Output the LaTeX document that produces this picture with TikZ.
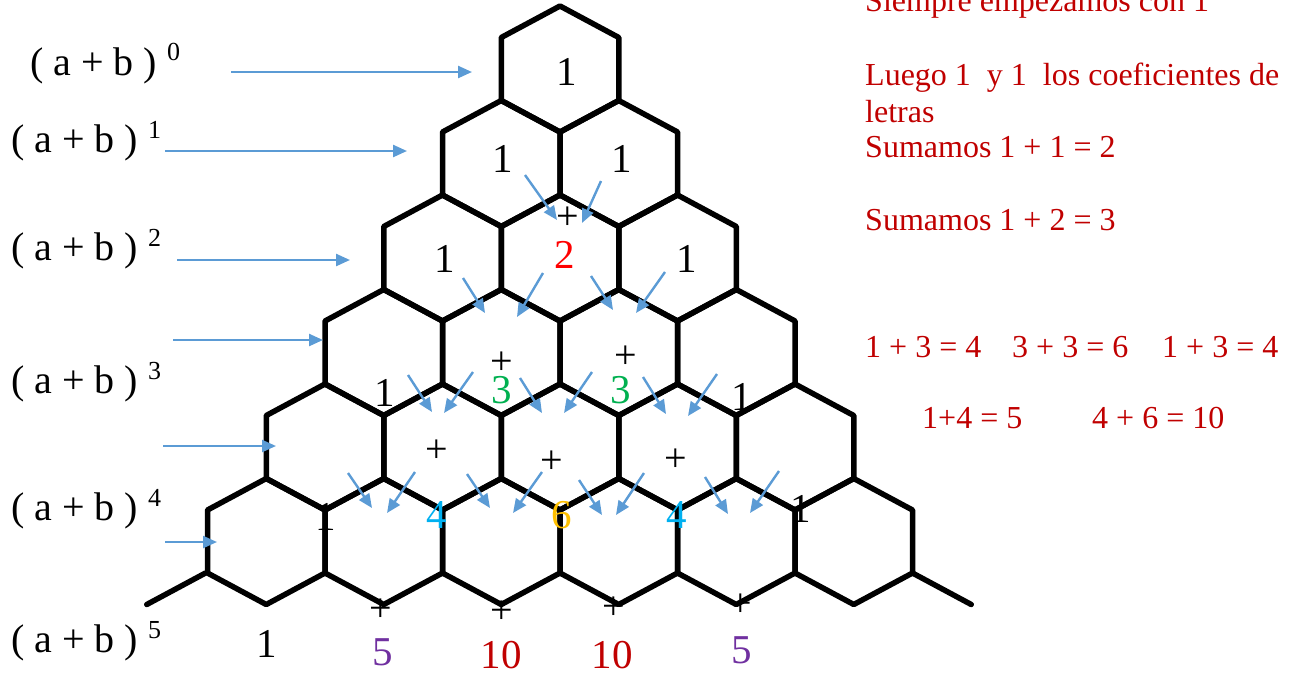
\documentclass[tikz,border=0pt]{standalone}
\usepackage{fontspec}
\setmainfont{Liberation Serif}
\usetikzlibrary{arrows.meta}
\definecolor{arrowblue}{HTML}{5B9BD5}
\definecolor{darkred}{HTML}{C00000}
\definecolor{mygreen}{HTML}{00B050}
\definecolor{mycyan}{HTML}{00B0F0}
\definecolor{myorange}{HTML}{FFC000}
\definecolor{mypurple}{HTML}{7030A0}
\begin{document}
\begin{tikzpicture}[x=1pt,y=-1pt,
  hexline/.style={line width=5.5pt, line join=round, line cap=round, black},
  blarrow/.style={arrowblue, line width=2.4pt, -{Triangle[length=14pt,width=12pt]}},
  num/.style={inner sep=0pt, anchor=base, font=\fontsize{41}{41}\selectfont},
  plus/.style={inner sep=0pt, anchor=center, font=\fontsize{40}{40}\selectfont},
  lbl/.style={inner sep=0pt, anchor=base west, font=\fontsize{40}{40}\selectfont},
  note/.style={inner sep=0pt, anchor=base west, text=darkred, font=\fontsize{32}{32}\selectfont}]
\useasboundingbox (0,0) rectangle (1297,675);
\clip (0,0) rectangle (1297,675);
% hexagon grid
\foreach \k in {0,...,5}{
  \foreach \j in {0,...,\k}{
    \pgfmathsetmacro\cx{560+117.5*(\j-\k/2)}
    \pgfmathsetmacro\cy{69+94.5*\k}
    \draw[hexline] (\cx,\cy-63) -- (\cx+58.75,\cy-31.5) -- (\cx+58.75,\cy+31.5)
      -- (\cx,\cy+63) -- (\cx-58.75,\cy+31.5) -- (\cx-58.75,\cy-31.5) -- cycle;
  }
}
\draw[hexline] (205.5,573) -- (146.75,604.5);
\draw[hexline] (912.5,573) -- (971.25,604.5);
% left labels
\node[lbl] (l0) at (30,75) {( a + b )\ \raisebox{15pt}{\fontsize{26}{26}\selectfont 0}};
\node[lbl] (l1) at (11,152) {( a + b )\ \raisebox{14pt}{\fontsize{26}{26}\selectfont 1}};
\node[lbl] (l2) at (11,260) {( a + b )\ \raisebox{14pt}{\fontsize{26}{26}\selectfont 2}};
\node[lbl] (l3) at (11,393) {( a + b )\ \raisebox{14pt}{\fontsize{26}{26}\selectfont 3}};
\node[lbl] (l4) at (11,520) {( a + b )\ \raisebox{14pt}{\fontsize{26}{26}\selectfont 4}};
\node[lbl] (l5) at (11,652) {( a + b )\ \raisebox{14pt}{\fontsize{26}{26}\selectfont 5}};
% horizontal arrows
\draw[blarrow] (231,72) -- (472,72);
\draw[blarrow] (165,151) -- (407,151);
\draw[blarrow] (177,260) -- (350,260);
\draw[blarrow] (173,340) -- (323,340);
\draw[blarrow] (163,446) -- (276,446);
\draw[blarrow] (165,542) -- (217,542);
% diagonal arrows
\foreach \ax/\ay/\bx/\by in {
  525/175/557/220, 601/181/582/223,
  463/278/485/313, 543/273/517/317, 591/276/613/310, 665/272/636/313,
  408/375/432/412, 473/372/444/413, 520/378/542/413, 592/372/564/413, 643/377/666/414, 717/374/688/416,
  348/473/372/508, 415/472/387/513, 467/474/490/508, 542/472/513/513, 579/480/602/515, 644/473/616/515, 705/477/728/514, 779/471/750/513}
  {\draw[blarrow] (\ax,\ay) -- (\bx,\by);}
% numbers in the triangle
\node[num] (r0a) at (567,85) {1};
\node[num] (r1a) at (503,172) {1};
\node[num] (r1b) at (622,172) {1};
\node[plus] (p2) at (568,218) {+};
\node[num] (r2a) at (445,272) {1};
\node[num,text=red] (r2b) at (565,268) {2};
\node[num] (r2c) at (687,272) {1};
\node[plus] (p3a) at (502,363) {+};
\node[plus] (p3b) at (626,357) {+};
\node[num] (r3a) at (385,406) {1};
\node[num,text=mygreen] (r3b) at (502,403) {3};
\node[num,text=mygreen] (r3c) at (621,403) {3};
\node[num] (r3d) at (742,410) {1};
\node[plus] (p4a) at (437,451) {+};
\node[plus] (p4b) at (552,462) {+};
\node[plus] (p4c) at (676,460) {+};
\node[num] (r4a) at (326,530) {1};
\node[num,text=mycyan] (r4b) at (437,528) {4};
\node[num,text=myorange] (r4c) at (562,528) {6};
\node[num,text=mycyan] (r4d) at (677,528) {4};
\node[num] (r4e) at (801,522) {1};
\node[plus] (p5a) at (381,610) {+};
\node[plus] (p5b) at (502,612) {+};
\node[plus] (p5c) at (614,608) {+};
\node[plus] (p5d) at (741,605) {+};
\node[num] (r5a) at (267,657) {1};
\node[num,text=mypurple] (r5b) at (383,665) {5};
\node[num,text=darkred] (r5c) at (501,668) {10};
\node[num,text=darkred] (r5d) at (612,668) {10};
\node[num,text=mypurple] (r5e) at (742,663) {5};
% notes
\node[note] (n0) at (865,11) {Siempre empezamos con 1};
\node[note] (n1) at (865,85) {Luego 1\ \ y 1\ \ los coeficientes de};
\node[note] (n2) at (865,122) {letras};
\node[note] (n3) at (865,157) {Sumamos 1 + 1 = 2};
\node[note] (n4) at (865,230) {Sumamos 1 + 2 = 3};
\node[note] (n5) at (865,357) {1 + 3 = 4};
\node[note] (n6) at (1012,357) {3 + 3 = 6};
\node[note] (n7) at (1162,357) {1 + 3 = 4};
\node[note] (n8) at (922,428) {1+4 = 5};
\node[note] (n9) at (1092,428) {4 + 6 = 10};
\end{tikzpicture}
\end{document}
